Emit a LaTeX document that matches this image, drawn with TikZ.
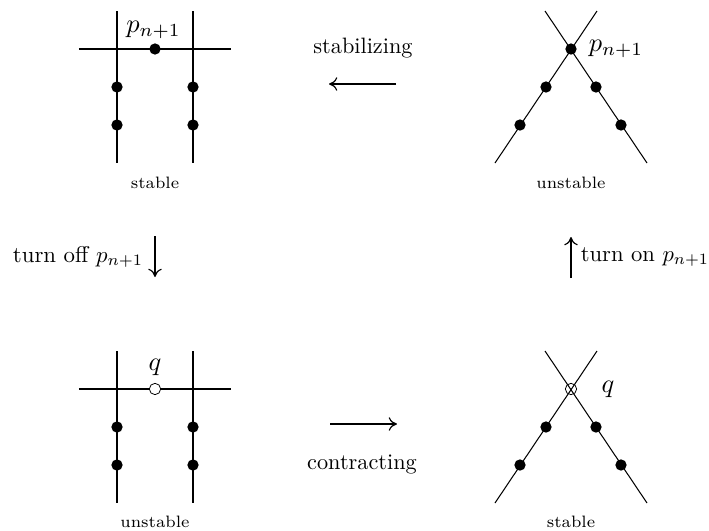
\documentclass[tikz,border=0pt]{standalone}
\usetikzlibrary{arrows.meta}
\tikzset{
  x=0.53pt,y=-0.53pt,
  dot/.style={circle,fill=black,draw=none,inner sep=0pt,minimum size=6pt},
  hollow/.style={circle,draw=black,line width=0.42pt,fill=none,inner sep=0pt,minimum size=6pt},
  heavy/.style={line width=0.75pt,black},
  thinline/.style={line width=0.55pt,black},
  cmarrow/.style={line width=0.6pt,-{Computer Modern Rightarrow[width=7.2pt,length=4.4pt]}},
  captxt/.style={font=\scriptsize,inner sep=0pt,scale=1.25},
  txt/.style={inner sep=0pt,scale=1.18},
  mathlab/.style={inner sep=0pt,scale=1.4},
}
\begin{document}
\begin{tikzpicture}
\useasboundingbox (0,0) rectangle (709,531);
% --- top left
\coordinate (a1) at (117,11); \coordinate (a2) at (117,163);
\coordinate (a3) at (193,11); \coordinate (a4) at (193,163);
\coordinate (a5) at (79,49);  \coordinate (a6) at (231,49);
\draw[heavy] (a1)--(a2); \draw[heavy] (a3)--(a4); \draw[heavy] (a5)--(a6);
\node[dot] (ad0) at (155,49) {};
\node[dot] (ad1) at (117,87) {}; \node[dot] (ad2) at (193,87) {};
\node[dot] (ad3) at (117,125) {}; \node[dot] (ad4) at (193,125) {};
\node[mathlab] (alab) at (153.5,30) {$p_{n+1}$};
\node[captxt] (acap) at (155,183) {stable};
% --- top right
\coordinate (b1) at (545,11); \coordinate (b2) at (647,163);
\coordinate (b3) at (597,11); \coordinate (b4) at (495,163);
\draw[thinline] (b1)--(b2); \draw[thinline] (b3)--(b4);
\node[dot] (bd0) at (571,49) {};
\node[dot] (bd1) at (546,87) {}; \node[dot] (bd2) at (596,87) {};
\node[dot] (bd3) at (520,125) {}; \node[dot] (bd4) at (621,125) {};
\node[mathlab] (blab) at (616,49) {$p_{n+1}$};
\node[captxt] (bcap) at (571,183) {unstable};
% --- bottom left
\coordinate (c1) at (117,351); \coordinate (c2) at (117,503);
\coordinate (c3) at (193,351); \coordinate (c4) at (193,503);
\coordinate (c5) at (79,389);  \coordinate (c6) at (231,389);
\draw[heavy] (c1)--(c2); \draw[heavy] (c3)--(c4); \draw[heavy] (c5)--(c6);
\node[hollow,fill=white] (cd0) at (155,389) {};
\node[dot] (cd1) at (117,427) {}; \node[dot] (cd2) at (193,427) {};
\node[dot] (cd3) at (117,465) {}; \node[dot] (cd4) at (193,465) {};
\node[mathlab] (clab) at (155,367) {$q$};
\node[captxt] (ccap) at (155,522) {unstable};
% --- bottom right
\coordinate (d1) at (545,351); \coordinate (d2) at (647,503);
\coordinate (d3) at (597,351); \coordinate (d4) at (495,503);
\draw[thinline] (d1)--(d2); \draw[thinline] (d3)--(d4);
\node[hollow] (dd0) at (571,389) {};
\node[dot] (dd1) at (546,427) {}; \node[dot] (dd2) at (596,427) {};
\node[dot] (dd3) at (520,465) {}; \node[dot] (dd4) at (621,465) {};
\node[mathlab] (dlab) at (608,389) {$q$};
\node[captxt] (dcap) at (571,522) {stable};
% --- transitions
\node[txt] (stab) at (363,48) {stabilizing};
\coordinate (s1) at (396,84); \coordinate (s2) at (329,84);
\draw[cmarrow] (s1)--(s2);
\node[txt] (cont) at (362,464) {contracting};
\coordinate (k1) at (330,424); \coordinate (k2) at (397,424);
\draw[cmarrow] (k1)--(k2);
\node[txt,scale=1.025] (off) at (78,257) {turn off $p_{n+1}$};
\coordinate (o1) at (155,236); \coordinate (o2) at (155,277);
\draw[cmarrow] (o1)--(o2);
\node[txt,scale=1.015] (on) at (645,257) {turn on $p_{n+1}$};
\coordinate (n1) at (571,278); \coordinate (n2) at (571,237);
\draw[cmarrow] (n1)--(n2);
\end{tikzpicture}
\end{document}
